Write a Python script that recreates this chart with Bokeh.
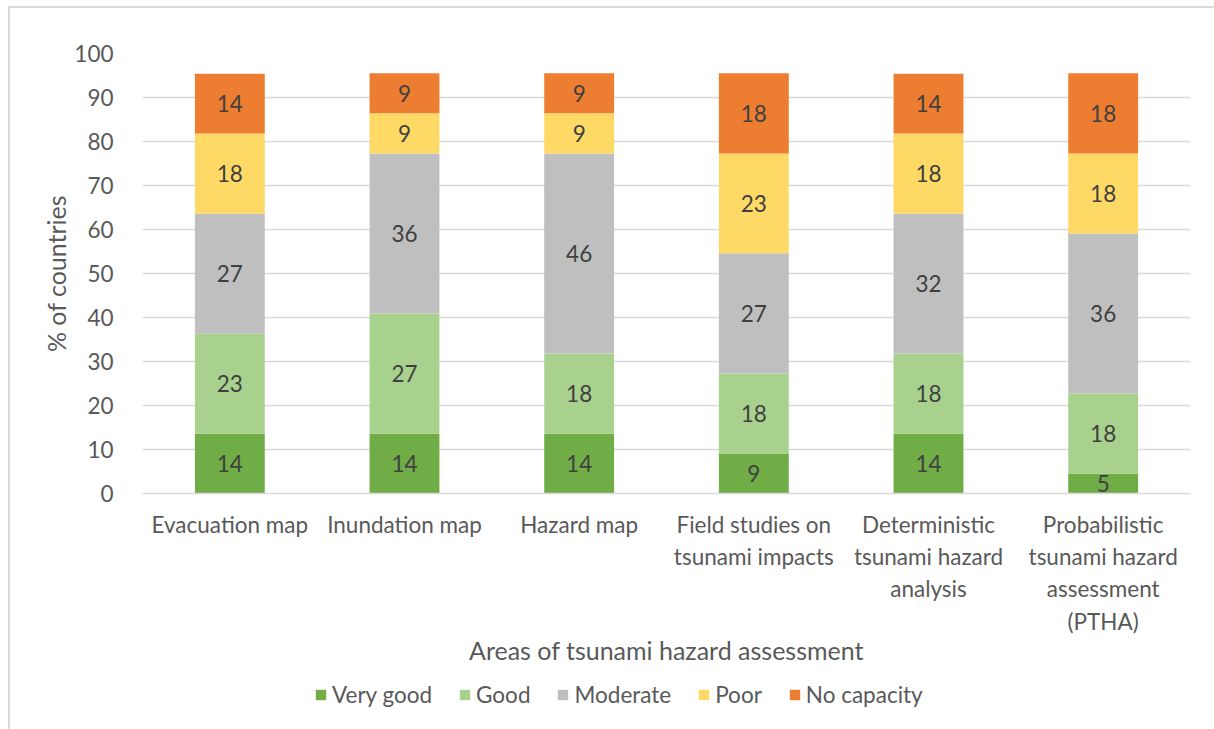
from bokeh.plotting import figure
from bokeh.layouts import column
from bokeh.models import ColumnDataSource, Legend, LegendItem, FactorRange
from bokeh.embed import file_html
from bokeh.resources import INLINE
from bokeh.core.properties import value

categories = [
    "Evacuation map",
    "Inundation map",
    "Hazard map",
    "Field studies on\ntsunami impacts",
    "Deterministic\ntsunami hazard\nanalysis",
    "Probabilistic\ntsunami hazard\nassessment\n(PTHA)",
]
series = ["Very good", "Good", "Moderate", "Poor", "No capacity"]
very_good = [13.6, 13.6, 13.6, 9.1, 13.6, 4.5]
good = [22.7, 27.3, 18.2, 18.2, 18.2, 18.2]
moderate = [27.3, 36.4, 45.5, 27.3, 31.8, 36.4]
poor = [18.2, 9.1, 9.1, 22.7, 18.2, 18.2]
no_capacity = [13.6, 9.1, 9.1, 18.2, 13.6, 18.2]
colors = ["#70AD47", "#A9D18E", "#BFBFBF", "#FFD966", "#ED7D31"]
y_ticks = [0, 10, 20, 30, 40, 50, 60, 70, 80, 90, 100]

FONT = "Lato"
FS = "22.5px"
data = {"cat": categories}
keys = ["vg", "g", "m", "p", "nc"]
for k, arr in zip(keys, [very_good, good, moderate, poor, no_capacity]):
    data[k] = arr
src = ColumnDataSource(data)

p = figure(
    x_range=FactorRange(*categories), y_range=(0, 100),
    width=1214, height=670, output_backend="svg", toolbar_location=None,
    min_border_left=142, min_border_right=24, min_border_top=53, min_border_bottom=177,
)
p.outline_line_color = None
p.border_fill_color = None
p.background_fill_color = None

renderers = p.vbar_stack(keys, x="cat", width=0.4, source=src, color=colors, line_color=None)

# labels
lx, ly, lt = [], [], []
arrs = [very_good, good, moderate, poor, no_capacity]
for i, c in enumerate(categories):
    base = 0.0
    for arr in arrs:
        v = arr[i]
        lx.append(c)
        ly.append(base + v / 2)
        lt.append(str(int(v + 0.5)))
        base += v
p.text(x=lx, y=ly, text=lt, text_align="center", text_baseline="middle",
       text_font=value(FONT), text_font_size=FS, text_color="#404040")

p.xgrid.grid_line_color = None
p.ygrid.grid_line_color = "#D9D9D9"
p.ygrid.grid_line_width = 1.5
p.yaxis.ticker = y_ticks
p.yaxis.axis_line_color = None
p.yaxis.major_tick_line_color = None
p.yaxis.minor_tick_line_color = None
p.yaxis.major_label_standoff = 23
p.xaxis.axis_line_color = "#D9D9D9"
p.xaxis.axis_line_width = 1.5
p.xaxis.major_tick_line_color = None
p.xaxis.major_label_standoff = 11
for ax in (p.xaxis[0], p.yaxis[0]):
    ax.major_label_text_font = FONT
    ax.major_label_text_font_size = FS
    ax.major_label_text_color = "#595959"
    ax.axis_label_text_font = FONT
    ax.axis_label_text_font_size = "25px"
    ax.axis_label_text_color = "#595959"
    ax.axis_label_text_font_style = "normal"
p.xaxis.axis_label = "Areas of tsunami hazard assessment"
p.xaxis.axis_label_standoff = -3
p.yaxis.axis_label = "% of countries"
p.yaxis.axis_label_standoff = 0

# legend strip
p2 = figure(width=1214, height=59, output_backend="svg", toolbar_location=None,
            x_range=(0, 1), y_range=(0, 1), min_border=0)
p2.outline_line_color = None
p2.border_fill_color = None
p2.background_fill_color = None
p2.axis.visible = False
p2.grid.visible = False
leg_rs = [p2.vbar(x=[0.5], top=[0], bottom=[0], width=0.0, color=c, line_color=None) for c in colors]
legend = Legend(
    items=[LegendItem(label=s, renderers=[r]) for s, r in zip(series, leg_rs)],
    orientation="horizontal", location=(172, 21),
    border_line_color=None, background_fill_alpha=0,
    label_text_font=FONT, label_text_font_size=FS, label_text_color="#595959",
    glyph_width=13, glyph_height=13, label_standoff=5, spacing=26,
    padding=2, margin=0,
)
p2.add_layout(legend, "center")

bg = ("linear-gradient(#D9D9D9,#D9D9D9) 8px 6px / 2px 100% no-repeat, "
      "linear-gradient(#D9D9D9,#D9D9D9) 8px 6px / 100% 2px no-repeat")
layout = column(p, p2, spacing=0, styles={"background": bg})

open("out.html", "w").write(file_html(layout, INLINE))
